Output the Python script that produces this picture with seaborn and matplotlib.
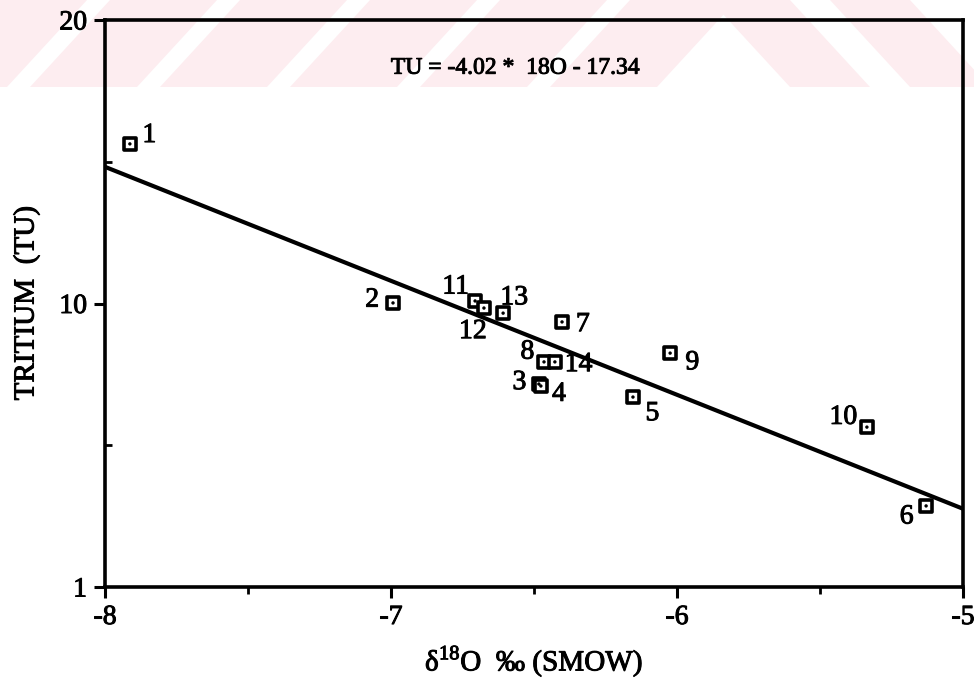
import numpy as np
import pandas as pd
import matplotlib
matplotlib.use("Agg")
import matplotlib.pyplot as plt
import matplotlib.patheffects as pe
from matplotlib.patches import Polygon
import seaborn as sns

# sample data
sample_ids = ['1', '2', '3', '4', '5', '6', '7', '8', '9', '10', '11', '12', '13', '14']
d18o = [-7.913, -6.993, -6.483, -6.476, -6.154, -5.129, -6.402,
        -6.465, -6.024, -5.336, -6.706, -6.675, -6.608, -6.427]
tritium = [15.63, 10.02, 7.16, 7.09, 6.70, 2.86, 9.35,
           7.94, 8.25, 5.64, 10.09, 9.84, 9.66, 7.94]

# regression line TU = slope * d18O + intercept
slope = -4.02
intercept = -17.34
fit_x = [-8.0, -5.0]

x_ticks = [-8, -7, -6, -5]
y_ticks = [0, 10, 20]
y_tick_labels = ['1', '10', '20']

# label offsets (points) for each sample number
label_offsets = {'1': (14, 6), '2': (-15, 2), '3': (-14, 1), '4': (13, -6),
                 '5': (14, -12), '6': (-14, -8), '7': (15, -2), '8': (-12, 7),
                 '9': (16, -7), '10': (-17, 7), '11': (-14, 10), '12': (-8, -17),
                 '13': (8, 11), '14': (17, -2)}

df = pd.DataFrame({'id': sample_ids, 'd18o': d18o, 'tu': tritium})
fit = pd.DataFrame({'x': fit_x, 'y': [slope * v + intercept for v in fit_x]})

sns.set_style('ticks', {'axes.edgecolor': 'black', 'text.color': 'black',
                        'xtick.color': 'black', 'ytick.color': 'black',
                        'axes.labelcolor': 'black'})
plt.rcParams['font.family'] = ['Liberation Serif', 'DejaVu Serif']
plt.rcParams['mathtext.fontset'] = 'custom'
plt.rcParams['mathtext.rm'] = 'Liberation Serif'

# thicken text a little, like the scanned print
ink = [pe.withStroke(linewidth=0.7, foreground='black')]

fig = plt.figure(figsize=(9.74, 6.84), dpi=100)

# faint pink watermark stripes from the scanned page
pink = '#fdedf0'
W, H = 974.0, 684.0
def add_poly(pts):
    fig.patches.append(Polygon([(x / W, 1 - y / H) for x, y in pts], closed=True,
                               transform=fig.transFigure, facecolor=pink,
                               edgecolor='none', zorder=-5))
for x0 in [-100, 30, 160, 290, 420, 550]:
    add_poly([(x0, 87), (x0 + 107, 87), (x0 + 187, 0), (x0 + 80, 0)])
for x0 in [710, 830]:
    add_poly([(x0, 0), (x0 + 80, 0), (x0 + 160, 87), (x0 + 80, 87)])

ax = fig.add_axes([105 / W, 97 / H, 858 / W, 567 / H])
ax.set_zorder(1)
ax.set_facecolor('none')

sns.lineplot(data=fit, x='x', y='y', color='black', linewidth=3.0, ax=ax, zorder=2)
sns.scatterplot(data=df, x='d18o', y='tu', marker='s', s=80, facecolor='white',
                edgecolor='black', linewidth=2.6, ax=ax, zorder=3)
sns.scatterplot(data=df, x='d18o', y='tu', marker='o', s=6, color='black',
                edgecolor='none', ax=ax, zorder=4)

for _, r in df.iterrows():
    dx, dy = label_offsets[r['id']]
    ax.annotate(r['id'], (r['d18o'], r['tu']), xytext=(dx, dy),
                textcoords='offset points', ha='center', va='center',
                fontsize=20, zorder=5, path_effects=ink)

ax.text(0.478, 0.915, 'TU = -4.02 *  18O - 17.34', transform=ax.transAxes,
        ha='center', va='center', fontsize=17, path_effects=ink)

ax.set_xlim(-8, -5)
ax.set_ylim(0, 20)
ax.set_xticks(x_ticks)
ax.set_xticklabels([str(t) for t in x_ticks])
ax.set_xticks([-7.5, -6.5, -5.5], minor=True)
ax.set_yticks(y_ticks)
ax.set_yticklabels(y_tick_labels)
ax.set_yticks([5, 15], minor=True)

ax.tick_params(axis='both', which='major', direction='out', length=8, width=2.2,
               labelsize=20, pad=5)
ax.tick_params(axis='x', which='minor', direction='out', length=5, width=2)
ax.tick_params(axis='y', which='minor', direction='in', length=5, width=2)
for lab in ax.get_xticklabels() + ax.get_yticklabels():
    lab.set_path_effects(ink)

for side in ['left', 'right', 'top', 'bottom']:
    ax.spines[side].set_visible(True)
    ax.spines[side].set_linewidth(2.6)

ax.set_xlabel(r'δ$^{18}$O  ‰ (SMOW)', fontsize=21, labelpad=10, path_effects=ink)
ax.set_ylabel('TRITIUM  (TU)', fontsize=21, labelpad=14, path_effects=ink)

fig.savefig('out.png', dpi=100)
